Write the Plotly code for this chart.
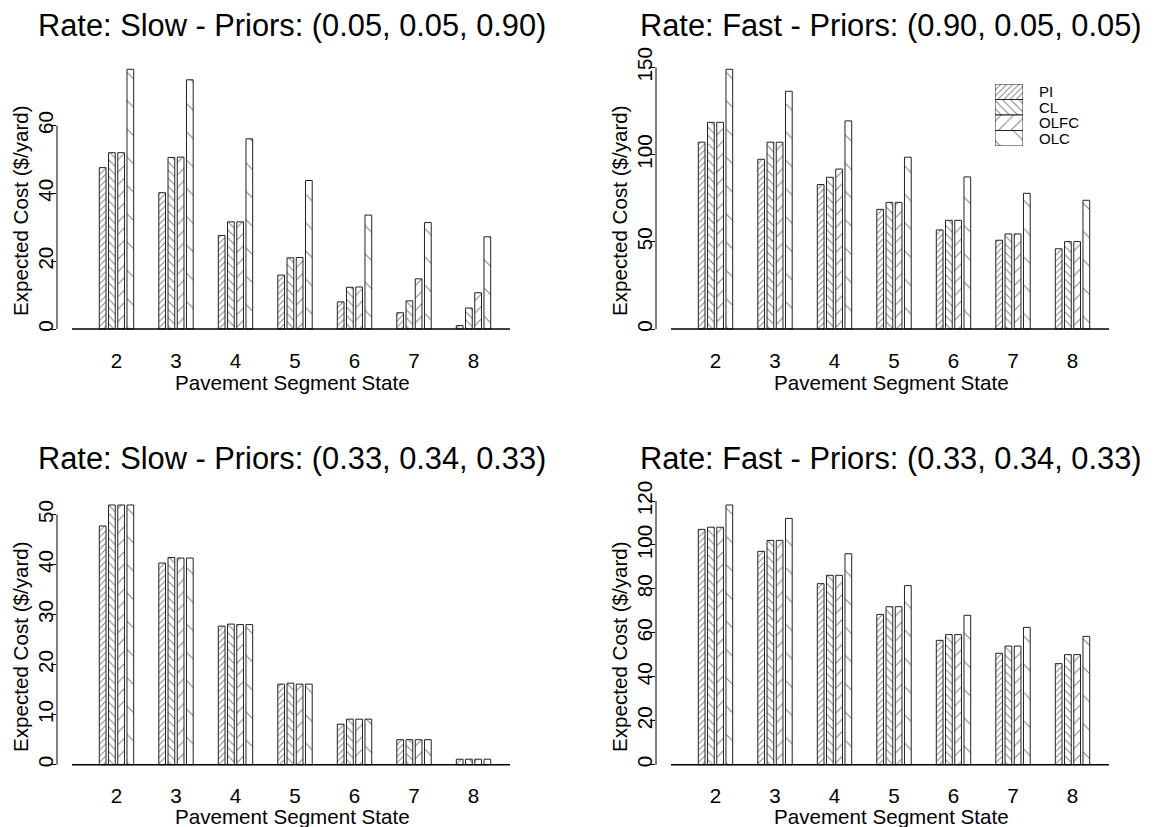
import plotly.graph_objects as go

# The page body has an 8px margin, so the figure starts at (8, 8) in the window.
OX, OY = 8, 8
W, H = 1155 - OX, 827 - OY
FONT = "Liberation Sans, Arial, Helvetica, sans-serif"

states = [2, 3, 4, 5, 6, 7, 8]
policies = ["PI", "CL", "OLFC", "OLC"]

titles = [
    "Rate: Slow - Priors: (0.05, 0.05, 0.90)",
    "Rate: Fast - Priors: (0.90, 0.05, 0.05)",
    "Rate: Slow - Priors: (0.33, 0.34, 0.33)",
    "Rate: Fast - Priors: (0.33, 0.34, 0.33)",
]
x_title = "Pavement Segment State"
y_title = "Expected Cost ($/yard)"

# Panel 1: Slow, priors (0.05, 0.05, 0.90)
slow_a_PI = [47.6, 40.2, 27.6, 15.9, 8.0, 4.8, 1.0]
slow_a_CL = [52.0, 50.6, 31.6, 21.0, 12.3, 8.3, 6.2]
slow_a_OLFC = [52.0, 50.7, 31.6, 21.1, 12.4, 14.8, 10.7]
slow_a_OLC = [76.6, 73.5, 56.1, 43.8, 33.6, 31.4, 27.2]

# Panel 2: Fast, priors (0.90, 0.05, 0.05)
fast_a_PI = [107.1, 97.3, 82.8, 68.6, 56.8, 50.9, 46.0]
fast_a_CL = [118.5, 107.1, 87.0, 72.6, 62.3, 54.5, 50.1]
fast_a_OLFC = [118.5, 107.1, 91.7, 72.6, 62.3, 54.5, 50.1]
fast_a_OLC = [148.9, 136.3, 119.3, 98.5, 87.2, 77.8, 73.8]

# Panel 3: Slow, priors (0.33, 0.34, 0.33)
slow_b_PI = [47.7, 40.3, 27.7, 16.1, 8.1, 5.0, 1.1]
slow_b_CL = [51.9, 41.4, 28.1, 16.3, 9.1, 5.0, 1.1]
slow_b_OLFC = [51.9, 41.3, 28.0, 16.1, 9.1, 5.0, 1.1]
slow_b_OLC = [51.9, 41.3, 28.0, 16.1, 9.1, 5.0, 1.1]

# Panel 4: Fast, priors (0.33, 0.34, 0.33)
fast_b_PI = [107.1, 97.1, 82.4, 68.4, 56.6, 50.7, 46.0]
fast_b_CL = [108.1, 102.1, 86.2, 71.9, 59.2, 54.0, 50.1]
fast_b_OLFC = [108.1, 102.1, 86.2, 71.9, 59.2, 54.0, 50.1]
fast_b_OLC = [118.2, 112.1, 96.0, 81.5, 68.0, 62.5, 58.4]

yticks = [
    [0, 20, 40, 60],
    [0, 50, 100, 150],
    [0, 10, 20, 30, 40, 50],
    [0, 20, 40, 60, 80, 100, 120],
]

panels = [
    [slow_a_PI, slow_a_CL, slow_a_OLFC, slow_a_OLC],
    [fast_a_PI, fast_a_CL, fast_a_OLFC, fast_a_OLC],
    [slow_b_PI, slow_b_CL, slow_b_OLFC, slow_b_OLC],
    [fast_b_PI, fast_b_CL, fast_b_OLFC, fast_b_OLC],
]

# hatch styles (shape, size, solidity)
hatch = {
    "PI": ("/", 4.3, 0.22),
    "CL": ("\\", 5.8, 0.17),
    "OLFC": ("/", 8.8, 0.11),
    "OLC": ("\\", 20.0, 0.05),
}
HATCH_COLOR = "#808080"
EDGE = "#222222"
LAB = 20.6


def px_x(p):
    return (p - OX) / W


def px_y(p):
    return 1 - (p - OY) / H


# panel geometry in window pixels: (left, right, top, bottom)
px_regions = [
    (57, 527, 58.9, 339.4),
    (656, 1126, 58.9, 339.4),
    (57, 527, 494.6, 775.1),
    (656, 1126, 494.6, 775.1),
]
title_y = [25, 25, 458, 458]
xtick_len = [3, 3, 2, 2]
xlab_y = [383, 383, 816, 816]
ylab_x = [20, 619, 20, 619]
ylab_y = [211, 211, 647, 647]

fig = go.Figure()
layout = {}
shapes = []
annotations = []

for i, (vals, ticks) in enumerate(zip(panels, yticks)):
    n = "" if i == 0 else str(i + 1)
    xa, ya = "x" + n, "y" + n
    for pol, v in zip(policies, vals):
        shp, sz, sol = hatch[pol]
        fig.add_trace(go.Bar(
            x=states, y=v, name=pol, xaxis=xa, yaxis=ya, showlegend=False,
            marker=dict(color="white", line=dict(color=EDGE, width=1),
                        pattern=dict(shape=shp, size=sz, solidity=sol,
                                     fgcolor=HATCH_COLOR, bgcolor="white",
                                     fillmode="replace")),
        ))
    l, r, t, b = px_regions[i]
    vmax = max(max(v) for v in vals)
    layout["xaxis" + n] = dict(
        domain=[px_x(l), px_x(r)], range=[1.0, 8.899], anchor=ya,
        tickvals=states, ticktext=[str(s) for s in states],
        showline=False, showgrid=False, zeroline=False,
        ticks="outside", ticklen=xtick_len[i], tickcolor="rgba(0,0,0,0)",
        tickfont=dict(family=FONT, size=LAB, color="black"),
        automargin=False, fixedrange=True,
    )
    layout["yaxis" + n] = dict(
        domain=[px_y(b), px_y(t)], range=[-0.04 * vmax, 1.04 * vmax],
        anchor=xa, tickvals=ticks, ticktext=[str(k) for k in ticks],
        tickangle=-90, showline=False, showgrid=False, zeroline=False,
        ticks="outside", ticklen=5, tickcolor="black", tickwidth=1,
        ticklabelstandoff=-10,
        tickfont=dict(family=FONT, size=LAB, color="black"),
        automargin=False, fixedrange=True,
    )
    # y axis line from 0 to last tick
    shapes.append(dict(type="line", xref=xa + " domain", yref=ya,
                       x0=0, x1=0, y0=0, y1=ticks[-1],
                       line=dict(color="black", width=1)))
    # baseline under bars
    shapes.append(dict(type="line", xref=xa, yref=ya,
                       x0=1.252, x1=8.613, y0=0, y1=0,
                       line=dict(color="black", width=1.6)))
    annotations.append(dict(text=titles[i], xref="paper", yref="paper",
                            x=px_x((l + r) / 2), y=px_y(title_y[i]),
                            xanchor="center", yanchor="middle", showarrow=False,
                            font=dict(family=FONT, size=30.8, color="black")))
    annotations.append(dict(text=x_title, xref="paper", yref="paper",
                            x=px_x((l + r) / 2), y=px_y(xlab_y[i]),
                            xanchor="center", yanchor="middle", showarrow=False,
                            font=dict(family=FONT, size=LAB, color="black")))
    annotations.append(dict(text=y_title, xref="paper", yref="paper",
                            x=px_x(ylab_x[i]), y=px_y(ylab_y[i]), textangle=-90,
                            xanchor="center", yanchor="middle", showarrow=False,
                            font=dict(family=FONT, size=LAB, color="black")))

# legend drawn as small patterned boxes
leg_vals = [1, 1, 1, 1]
fig.add_trace(go.Bar(
    x=leg_vals, y=policies, orientation="h", width=1, xaxis="x5", yaxis="y5",
    showlegend=False, hoverinfo="skip",
    marker=dict(color="white", line=dict(color=EDGE, width=1),
                pattern=dict(shape=[hatch[p][0] for p in policies],
                             size=[hatch[p][1] for p in policies],
                             solidity=[hatch[p][2] for p in policies],
                             fgcolor=HATCH_COLOR, bgcolor="white",
                             fillmode="replace")),
))
layout["xaxis5"] = dict(domain=[px_x(995), px_x(1023)], range=[0, 1], visible=False,
                        anchor="y5", fixedrange=True)
layout["yaxis5"] = dict(domain=[px_y(146), px_y(84)], range=[3.5, -0.5],
                        visible=False, anchor="x5", fixedrange=True,
                        type="category", categoryorder="array",
                        categoryarray=policies)
for k, p in enumerate(policies):
    annotations.append(dict(text=p, xref="x5", yref="y5", x=1, y=p,
                            xanchor="left", yanchor="middle", xshift=14,
                            showarrow=False,
                            font=dict(family=FONT, size=15, color="black")))

fig.update_layout(
    width=W, height=H, margin=dict(l=0, r=0, t=0, b=0),
    paper_bgcolor="white", plot_bgcolor="white",
    barmode="group", bargap=0.38, bargroupgap=0.27,
    shapes=shapes, annotations=annotations, showlegend=False,
    font=dict(family=FONT, color="black"),
    **layout,
)

fig.write_html("out.html")
